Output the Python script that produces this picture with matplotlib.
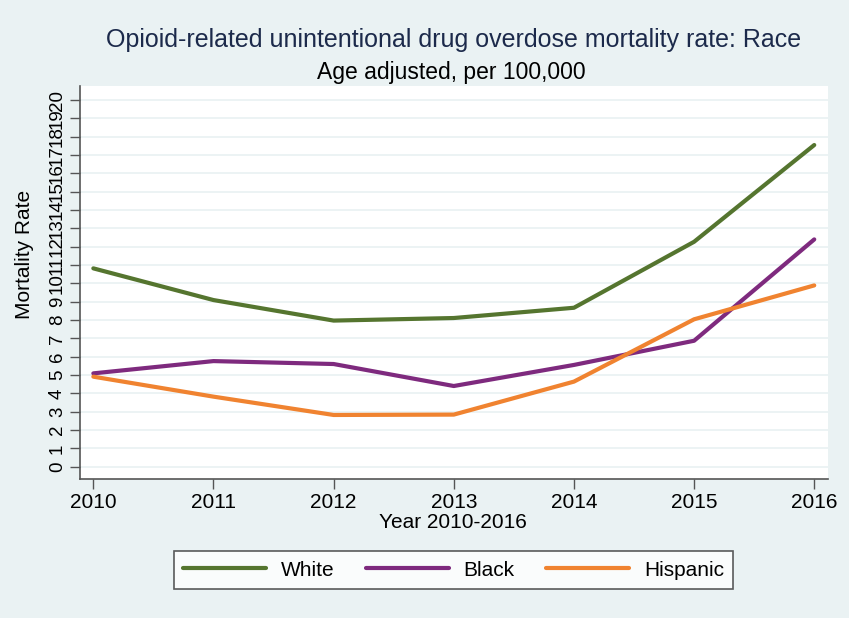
import numpy as np
import matplotlib
matplotlib.use("Agg")
import matplotlib.pyplot as plt

plt.rcParams['font.family'] = ['Liberation Sans', 'DejaVu Sans']

# values (per 100,000, age adjusted)
years = [2010, 2011, 2012, 2013, 2014, 2015, 2016]
white = [10.82, 9.09, 7.97, 8.11, 8.67, 12.27, 17.55]
black = [5.09, 5.76, 5.60, 4.40, 5.55, 6.87, 12.40]
hispanic = [4.91, 3.82, 2.82, 2.84, 4.64, 8.04, 9.89]
y_ticks = list(range(0, 21))

bg = '#EAF2F3'
fig = plt.figure(figsize=(8.49, 6.18), dpi=100, facecolor=bg)
ax = fig.add_axes([80 / 849, 1 - 479.3 / 618, (828.3 - 80) / 849, (479.3 - 86) / 618])
ax.set_facecolor('white')

ax.plot(years, white, color='#55752F', lw=3, label='White', solid_capstyle='round')
ax.plot(years, black, color='#7E2A7E', lw=3, label='Black', solid_capstyle='round')
ax.plot(years, hispanic, color='#F08330', lw=3, label='Hispanic', solid_capstyle='round')

ax.set_xlim(2009.889, 2016.117)
ax.set_ylim(-0.69, 20.77)
ax.set_xticks(years)
ax.set_yticks(y_ticks)
ax.set_yticklabels([str(t) for t in y_ticks], rotation=90, va='center')
ax.tick_params(axis='both', length=7, width=1, color='#555555', pad=3)
ax.tick_params(axis='x', labelsize=15)
ax.tick_params(axis='y', labelsize=13.5)
ax.grid(axis='y', color=bg, lw=1.3)
ax.set_axisbelow(True)

for s in ['top', 'right']:
    ax.spines[s].set_visible(False)
for s in ['left', 'bottom']:
    ax.spines[s].set_color('#555555')
    ax.spines[s].set_linewidth(1.2)

fig.text(453.5 / 849, 1 - 40 / 618, 'Opioid-related unintentional drug overdose mortality rate: Race',
         ha='center', va='center', fontsize=18, color='#1C2A4B')
fig.text(451 / 849, 1 - 72 / 618, 'Age adjusted, per 100,000',
         ha='center', va='center', fontsize=16.5, color='black')
fig.text(453 / 849, 1 - 522 / 618, 'Year 2010-2016', ha='center', va='center', fontsize=15)
fig.text(25 / 849, 1 - 254 / 618, 'Mortality Rate', ha='center', va='center',
         rotation=90, fontsize=15)

leg = fig.legend(loc='center', bbox_to_anchor=(453.5 / 849, 1 - 570 / 618), ncol=3,
                 fontsize=15, frameon=True, fancybox=False, handlelength=4.0,
                 handletextpad=0.7, columnspacing=1.5, borderpad=0.45)
leg.get_frame().set_edgecolor('#333333')
leg.get_frame().set_linewidth(1.2)
leg.get_frame().set_facecolor('white')

fig.savefig('out.png', dpi=100, facecolor=bg)
